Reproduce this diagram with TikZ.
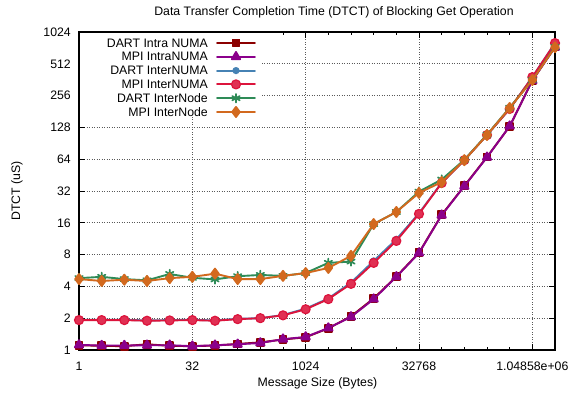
\documentclass[tikz,border=0pt]{standalone}
\usepackage{fontspec}
\setmainfont{Liberation Sans}
\usetikzlibrary{plotmarks}
\definecolor{cDartIntra}{HTML}{8B0000}
\definecolor{cMpiIntra}{HTML}{8B008B}
\definecolor{cDartNuma}{HTML}{4682B4}
\definecolor{cMpiNuma}{HTML}{DC143C}
\definecolor{cDartNode}{HTML}{2E8B57}
\definecolor{cMpiNode}{HTML}{D2691E}
\tikzset{
  series/.style={line width=1.9pt, line join=round, line cap=round},
  gridline/.style={black!65, line width=0.7pt, dash pattern=on 0.9pt off 1.6pt},
  frameline/.style={black, line width=1.1pt},
  ticklabel/.style={inner sep=0pt, font=\fontsize{12.3}{14}\selectfont},
  dartintra/.style={series, cDartIntra, mark=square*, mark size=3.5pt, mark options={solid, fill=cDartIntra}},
  mpiintra/.style={series, cMpiIntra, mark=triangle*, mark size=4.8pt, mark options={solid, fill=cMpiIntra}},
  dartnuma/.style={series, cDartNuma, mark=*, mark size=2.6pt, mark options={solid, fill=cDartNuma}},
  mpinuma/.style={series, cMpiNuma, mark=*, mark size=4.5pt, mark options={solid, fill=cMpiNuma!88, draw=cMpiNuma, line width=1.2pt}},
  dartnode/.style={series, cDartNode, mark=asterisk, mark size=4.3pt, mark options={solid, line width=1.7pt}},
  mpinode/.style={series, cMpiNode, mark=diamond*, mark size=5pt, mark options={solid, fill=cMpiNode}},
}
\begin{document}
\begin{tikzpicture}[x=1pt, y=1pt]
\useasboundingbox (0,0) rectangle (574,398);
\fill[white] (0,0) rectangle (574,398);

% title and axis labels
\node[ticklabel] (title) at (334,386) {Data Transfer Completion Time (DTCT) of Blocking Get Operation};
\node[ticklabel] (xlabel) at (317.5,15) {Message Size (Bytes)};
\node[ticklabel, rotate=90] (ylabel) at (17,207) {DTCT (uS)};

\begin{scope}[shift={(79,48)}, x=22.667pt, y=31.8pt]
  % grid
  \foreach \k in {5,10,15,20} \draw[gridline] (\k,0) -- (\k,10);
  \foreach \v in {1,...,9} \draw[gridline] (0,\v) -- (21,\v);
  % ticks on all four sides
  \foreach \k in {0,...,21} {
    \draw[black, line width=0.7pt] (\k,0) -- ++(0,3pt);
    \draw[black, line width=0.7pt] (\k,10) -- ++(0,-3pt);
  }
  \foreach \k in {0,5,10,15,20} {
    \draw[black, line width=0.7pt] (\k,0) -- ++(0,6pt);
    \draw[black, line width=0.7pt] (\k,10) -- ++(0,-6pt);
  }
  \foreach \v in {0,...,10} {
    \draw[black, line width=0.7pt] (0,\v) -- ++(6pt,0);
    \draw[black, line width=0.7pt] (21,\v) -- ++(-6pt,0);
  }
  % tick labels
  \foreach \v/\t in {0/1,1/2,2/4,3/8,4/16,5/32,6/64,7/128,8/256,9/512,10/1024}
    \node[ticklabel, anchor=east] (ytick\v) at ([xshift=-8pt]0,\v) {\t};
  \foreach \k/\t in {0/1,5/32,10/1024,15/32768,20/1.04858e+06}
    \node[ticklabel] (xtick\k) at ([yshift=-16pt]\k,0) {\t};
\end{scope}

% key area covers the grid
\fill[white] (80,281) rectangle (262,365);

\begin{scope}[shift={(79,48)}, x=22.667pt, y=31.8pt]
  \draw[frameline] (0,0) rectangle (21,10);
  % measured series, log2 of time in microseconds
  \draw[dartintra] plot coordinates {(0,0.15) (1,0.13) (2,0.12) (3,0.18) (4,0.13) (5,0.12) (6,0.14) (7,0.19) (8,0.24) (9,0.33) (10,0.40) (11,0.68) (12,1.06) (13,1.62) (14,2.31) (15,3.06) (16,4.25) (17,5.16) (18,6.07) (19,7.03) (20,8.48) (21,9.54)};
  \draw[mpiintra] plot coordinates {(0,0.16) (1,0.14) (2,0.14) (3,0.15) (4,0.15) (5,0.12) (6,0.15) (7,0.18) (8,0.22) (9,0.34) (10,0.41) (11,0.69) (12,1.04) (13,1.60) (14,2.30) (15,3.05) (16,4.24) (17,5.15) (18,6.06) (19,7.04) (20,8.47) (21,9.52)};
  \draw[dartnuma] plot coordinates {(0,0.95) (1,0.95) (2,0.95) (3,0.93) (4,0.94) (5,0.95) (6,0.93) (7,0.98) (8,1.00) (9,1.10) (10,1.30) (11,1.62) (12,2.12) (13,2.80) (14,3.48) (15,4.30) (16,5.26) (17,5.97) (18,6.76) (19,7.58) (20,8.58) (21,9.65)};
  \draw[mpinuma] plot coordinates {(0,0.94) (1,0.94) (2,0.94) (3,0.92) (4,0.93) (5,0.94) (6,0.92) (7,0.97) (8,1.00) (9,1.09) (10,1.28) (11,1.60) (12,2.08) (13,2.74) (14,3.43) (15,4.28) (16,5.25) (17,5.97) (18,6.76) (19,7.58) (20,8.58) (21,9.65)};
  \draw[dartnode] plot coordinates {(0,2.26) (1,2.30) (2,2.23) (3,2.19) (4,2.39) (5,2.27) (6,2.22) (7,2.32) (8,2.36) (9,2.33) (10,2.42) (11,2.74) (12,2.78) (13,3.96) (14,4.34) (15,4.98) (16,5.36) (17,5.98) (18,6.77) (19,7.62) (20,8.49) (21,9.53)};
  \draw[mpinode] plot coordinates {(0,2.23) (1,2.17) (2,2.21) (3,2.17) (4,2.26) (5,2.30) (6,2.40) (7,2.23) (8,2.23) (9,2.33) (10,2.42) (11,2.58) (12,2.96) (13,3.96) (14,4.34) (15,4.94) (16,5.28) (17,5.97) (18,6.76) (19,7.61) (20,8.49) (21,9.52)};
\end{scope}

% key: sample line with one mark in its middle
\foreach \i/\sty/\t in {0/dartintra/DART Intra NUMA, 1/mpiintra/MPI IntraNUMA, 2/dartnuma/DART InterNUMA, 3/mpinuma/MPI InterNUMA, 4/dartnode/DART InterNode, 5/mpinode/MPI InterNode} {
  \node[ticklabel, anchor=east] (key\i) at (208,355-13.8*\i) {\t};
  \draw[\sty, mark indices={2}] plot coordinates {(217,355-13.8*\i) (236,355-13.8*\i) (255,355-13.8*\i)};
}
\end{tikzpicture}
\end{document}
